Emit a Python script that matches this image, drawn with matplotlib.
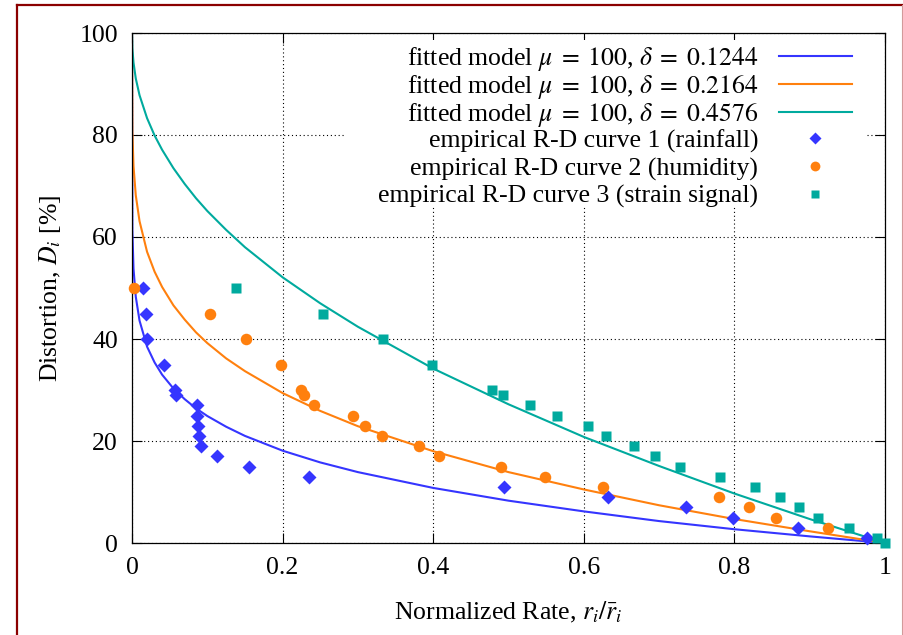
import matplotlib
matplotlib.use("Agg")
import matplotlib.pyplot as plt
from matplotlib.lines import Line2D
from matplotlib.patches import Rectangle

plt.rcParams["font.family"] = ["Liberation Serif", "DejaVu Serif"]
plt.rcParams["mathtext.fontset"] = "stix"

BLUE = "#3535ff"
ORANGE = "#ff800e"
TEAL = "#00aa9e"
BORDER = "#8b0000"

# fitted model curves
rate_grid = [0, 0.0005, 0.002, 0.005, 0.01, 0.02, 0.03, 0.04, 0.055, 0.07, 0.085, 0.1,
             0.125, 0.15, 0.2, 0.25, 0.3, 0.4, 0.5, 0.6, 0.7, 0.8, 0.9, 1.0]
fit_1244 = [100, 61.2, 53.8, 48.3, 43.6, 38.5, 35.4, 33.0, 30.3, 28.2, 26.4, 24.9,
            22.8, 21.0, 18.1, 15.8, 13.9, 10.8, 8.3, 6.2, 4.3, 2.7, 1.3, 0]
fit_2164 = [100, 80.7, 73.9, 68.2, 63.1, 57.1, 53.2, 50.2, 46.6, 43.8, 41.3, 39.2,
            36.2, 33.7, 29.4, 25.9, 22.9, 18.0, 13.9, 10.5, 7.4, 4.7, 2.3, 0]
fit_4576 = [100, 96.9, 94.2, 91.1, 87.8, 83.3, 79.9, 77.1, 73.5, 70.4, 67.6, 65.1,
            61.4, 58.0, 52.1, 47.0, 42.4, 34.2, 27.2, 20.8, 15.1, 9.7, 4.7, 0]

# empirical R-D curves
rain_r = [0.015, 0.018, 0.020, 0.042, 0.057, 0.059, 0.086, 0.086, 0.087, 0.089,
          0.092, 0.113, 0.155, 0.235, 0.494, 0.632, 0.736, 0.798, 0.884, 0.976]
rain_d = [50, 45, 40, 35, 30, 29, 27, 25, 23, 21, 19, 17, 15, 13, 11, 9, 7, 5, 3, 1]

hum_r = [0.003, 0.104, 0.151, 0.198, 0.225, 0.228, 0.242, 0.294, 0.310, 0.332,
         0.381, 0.408, 0.490, 0.548, 0.626, 0.780, 0.819, 0.855, 0.924]
hum_d = [50, 45, 40, 35, 30, 29, 27, 25, 23, 21, 19, 17, 15, 13, 11, 9, 7, 5, 3]

strain_r = [0.138, 0.253, 0.333, 0.399, 0.478, 0.493, 0.528, 0.565, 0.605, 0.630,
            0.667, 0.695, 0.728, 0.781, 0.828, 0.860, 0.886, 0.911, 0.952, 0.990, 1.0]
strain_d = [50, 45, 40, 35, 30, 29, 27, 25, 23, 21, 19, 17, 15, 13, 11, 9, 7, 5, 3, 1, 0]

x_ticks = [0, 0.2, 0.4, 0.6, 0.8, 1]
x_labels = ["0", "0.2", "0.4", "0.6", "0.8", "1"]
y_ticks = [0, 20, 40, 60, 80, 100]

FS = 18.5

fig = plt.figure(figsize=(9.04, 6.35), dpi=100)
W, H = 904, 635
ax = fig.add_axes([132 / W, 92 / H, 753 / W, 510 / H])
ax.set_xlim(0, 1)
ax.set_ylim(0, 100)

ax.set_axisbelow(True)
ax.grid(True, color="black", linestyle=(0, (1, 2.5)), linewidth=0.8)

# opaque key area
ax.add_patch(Rectangle((0.283, 0.659), 0.976 - 0.283, 0.986 - 0.659,
                       transform=ax.transAxes, facecolor="white",
                       edgecolor="none", zorder=1))

l1, = ax.plot(rate_grid, fit_1244, color=BLUE, lw=1.5, zorder=2,
              label=r"fitted model $\mu\;=\;100$, $\delta\;=\;0.1244$")
l2, = ax.plot(rate_grid, fit_2164, color=ORANGE, lw=1.5, zorder=2,
              label=r"fitted model $\mu\;=\;100$, $\delta\;=\;0.2164$")
l3, = ax.plot(rate_grid, fit_4576, color=TEAL, lw=1.5, zorder=2,
              label=r"fitted model $\mu\;=\;100$, $\delta\;=\;0.4576$")
p1, = ax.plot(rain_r, rain_d, ls="none", marker="D", ms=7.0, color=BLUE,
              mec="none", clip_on=False, zorder=3,
              label="empirical R-D curve 1 (rainfall)")
p2, = ax.plot(hum_r, hum_d, ls="none", marker="o", ms=8.3, color=ORANGE,
              mec="none", clip_on=False, zorder=3,
              label="empirical R-D curve 2 (humidity)")
p3, = ax.plot(strain_r, strain_d, ls="none", marker="s", ms=7.4, color=TEAL,
              mec="none", clip_on=False, zorder=3,
              label="empirical R-D curve 3 (strain signal)")

key = dict(loc="upper right", borderaxespad=0, borderpad=0, frameon=False,
           markerfirst=False, numpoints=1, fontsize=FS, handlelength=2.85,
           handletextpad=0.8, markerscale=0.85)
leg1 = ax.legend(handles=[l1, l2, l3], bbox_to_anchor=(0.956, 0.977),
                 labelspacing=0.0, **key)
leg1.set_zorder(4)
ax.add_artist(leg1)
leg2 = ax.legend(handles=[p1, p2, p3], bbox_to_anchor=(0.956, 0.8108),
                 labelspacing=0.17, **key)
leg2.set_zorder(4)

ax.set_xticks(x_ticks)
ax.set_xticklabels(x_labels)
ax.set_yticks(y_ticks)
ax.tick_params(direction="in", length=7, width=0.8, top=True, right=True,
               labelsize=FS, pad=10, color="black")
for s in ax.spines.values():
    s.set_linewidth(0.9)
    s.set_zorder(2.5)

ax.set_xlabel(r"Normalized Rate, $r_i/\bar{r}_i$", fontsize=FS, labelpad=15)
ax.set_ylabel(r"Distortion, $D_i$ [%]", fontsize=FS, labelpad=12)

# page frame
fig.add_artist(Line2D([17.5 / W, 17.5 / W], [0, 1 - 5 / H], transform=fig.transFigure,
                      color=BORDER, lw=1.6))
fig.add_artist(Line2D([17.5 / W, 1], [1 - 5 / H, 1 - 5 / H], transform=fig.transFigure,
                      color=BORDER, lw=1.6))
fig.add_artist(Line2D([902.5 / W, 902.5 / W], [0, 1 - 5 / H], transform=fig.transFigure,
                      color="#d29a9a", lw=0.8))

fig.savefig("out.png", dpi=100, facecolor="white")
